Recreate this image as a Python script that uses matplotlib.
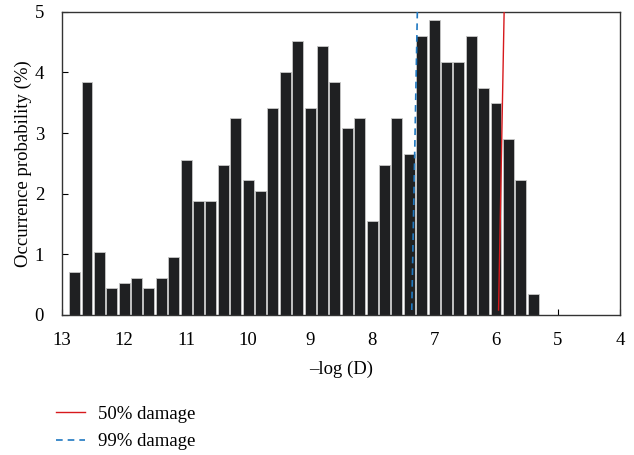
import matplotlib.pyplot as plt
from matplotlib.lines import Line2D

plt.rcParams['font.family'] = ['Liberation Serif', 'DejaVu Serif']

# bin centres of -log(D) and occurrence probability (%)
bin_centres = [12.8, 12.6, 12.4, 12.2, 12.0, 11.8, 11.6, 11.4, 11.2, 11.0,
               10.8, 10.6, 10.4, 10.2, 10.0, 9.8, 9.6, 9.4, 9.2, 9.0,
               8.8, 8.6, 8.4, 8.2, 8.0, 7.8, 7.6, 7.4, 7.2, 7.0,
               6.8, 6.6, 6.4, 6.2, 6.0, 5.8, 5.6, 5.4]
probability = [0.70, 3.84, 1.03, 0.44, 0.52, 0.61, 0.44, 0.61, 0.95, 2.56,
               1.88, 1.88, 2.48, 3.25, 2.22, 2.05, 3.41, 4.01, 4.52, 3.41,
               4.43, 3.84, 3.08, 3.25, 1.55, 2.48, 3.25, 2.65, 4.60, 4.86,
               4.17, 4.17, 4.60, 3.75, 3.49, 2.90, 2.22, 0.35]

# damage threshold lines (x at bottom, x at top)
damage50_x = [5.96, 5.87]
damage99_x = [7.36, 7.27]
line_y = [0.08, 5.0]

fig = plt.figure(figsize=(6.34, 4.55), dpi=100)
ax = fig.add_axes([0.098, 0.308, 0.880, 0.666])

ax.bar(bin_centres, probability, width=0.175, color='#1f2022',
       edgecolor='#c8c8c8', linewidth=0.6, zorder=2)
ax.plot(damage50_x, line_y, color='#d7191c', lw=1.0, zorder=3)
ax.plot(damage99_x, line_y, color='#1f78c1', lw=1.2, ls=(0, (4, 3)), zorder=3)

ax.set_xlim(13, 4)
ax.set_ylim(0, 5)
ax.set_xticks(range(13, 3, -1))
ax.set_yticks(range(0, 6))
ax.tick_params(direction='in', labelsize=13.5, length=4, width=0.8)
ax.tick_params(axis='x', pad=12)
ax.tick_params(axis='y', pad=13)
for s in ax.spines.values():
    s.set_linewidth(1.0)
    s.set_color('#333333')

ax.set_xlabel('\u2013log (D)', fontsize=13.5, labelpad=9)
ax.set_ylabel('Occurrence probability (%)', fontsize=13.5, labelpad=2)

handles = [Line2D([], [], color='#d7191c', lw=1.0),
           Line2D([], [], color='#1f78c1', lw=1.2, ls=(0, (4, 3)))]
fig.legend(handles, ['50% damage', '99% damage'], loc='upper left',
           bbox_to_anchor=(0.077, 0.125), frameon=False, fontsize=13.5,
           handlelength=1.55, handletextpad=0.65, labelspacing=0.55,
           borderaxespad=0)

fig.savefig('out.png', dpi=100)
